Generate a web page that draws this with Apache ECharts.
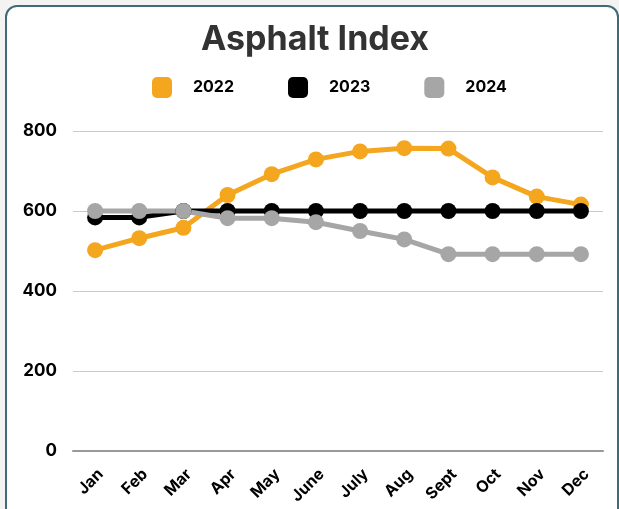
<!DOCTYPE html>
<html>
<head>
<meta charset="utf-8">
<script src="https://cdn.jsdelivr.net/npm/echarts@6/dist/echarts.min.js"></script>
<style>
    html, body { margin: 0; padding: 0; background: #f3f3f1; }
    .card {
        position: absolute; left: 5px; top: 5px; width: 610px; height: 530px;
        border: 2px solid #3f6b78; border-radius: 12px; background: #fff;
    }
    #main { position: absolute; left: 0; top: 0; width: 619px; height: 509px; }
</style>
</head>
<body>
<div class="card"></div>
<div id="main"></div>
<script>
    // 月份
    var months = ['Jan', 'Feb', 'Mar', 'Apr', 'May', 'June', 'July', 'Aug', 'Sept', 'Oct', 'Nov', 'Dec'];
    // 各年指数
    var idx2022 = [502, 532, 558, 640, 692, 729, 749, 757, 756, 684, 636, 616];
    var idx2023 = [584, 584, 600, 600, 600, 600, 600, 600, 600, 600, 600, 600];
    var idx2024 = [600, 600, 600, 582, 582, 572, 550, 529, 492, 492, 492, 492];
    var yearNames = ['2022', '2023', '2024'];
    var colors = ['#f4a61f', '#000000', '#a6a6a6'];

    var fontFam = 'Inter, "DejaVu Sans", sans-serif';

    function makeLine(name, data, color) {
        return {
            name: name,
            type: 'line',
            data: data,
            symbol: 'circle',
            symbolSize: 16,
            lineStyle: { width: 5, color: color },
            itemStyle: { color: color },
            z: 2
        };
    }

    var myChart = echarts.init(document.getElementById('main'));
    var opt = {
        backgroundColor: 'transparent',
        animation: false,
        color: colors,
        title: {
            text: 'Asphalt Index',
            left: 196,
            top: 18,
            textStyle: { fontFamily: fontFam, fontSize: 34, fontWeight: 'bold', color: '#333333' }
        },
        legend: {
            top: 77,
            left: 152,
            padding: 0,
            icon: 'roundRect',
            itemWidth: 20,
            itemHeight: 21,
            itemGap: 54,
            data: yearNames,
            textStyle: {
                fontFamily: fontFam, fontSize: 16, fontWeight: 'bold', color: '#000',
                padding: [0, 0, 0, 16]
            }
        },
        grid: { left: 73, right: 16, top: 131, bottom: 58 },
        xAxis: {
            type: 'category',
            data: months,
            axisTick: { show: false },
            axisLine: { lineStyle: { color: '#999999', width: 2 } },
            axisLabel: {
                rotate: 45, margin: 15, interval: 0, verticalAlign: 'top',
                fontFamily: fontFam, fontSize: 16, fontWeight: 'bold', color: '#000'
            }
        },
        yAxis: {
            type: 'value',
            min: 0,
            max: 800,
            interval: 200,
            axisLabel: {
                margin: 16,
                fontFamily: fontFam, fontSize: 17, fontWeight: 'bold', color: '#000'
            },
            splitLine: { lineStyle: { color: '#c9c9c9', width: 1 } }
        },
        series: [
            makeLine(yearNames[0], idx2022, colors[0]),
            makeLine(yearNames[1], idx2023, colors[1]),
            makeLine(yearNames[2], idx2024, colors[2])
        ]
    };
    myChart.setOption(opt);
</script>
</body>
</html>
